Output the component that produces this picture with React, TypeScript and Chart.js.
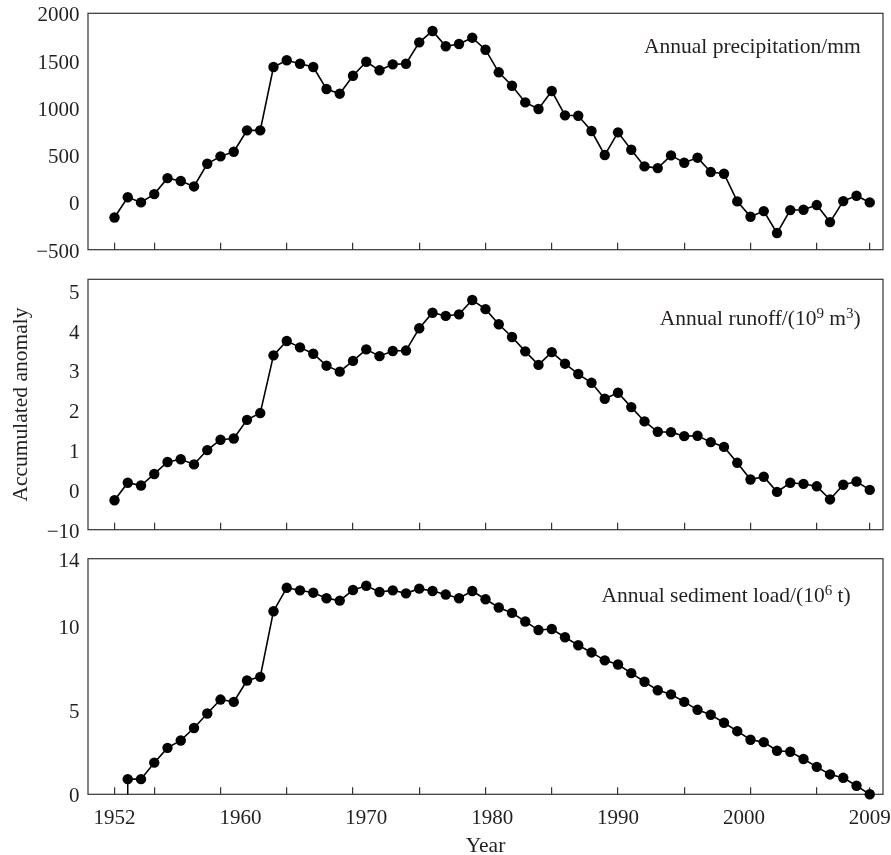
import React, { useEffect, useRef } from 'react';
import { Chart, registerables } from 'chart.js';

Chart.register(...registerables);

const FONT = '"Liberation Serif", "Times New Roman", serif';
const TEXT = '#231f20';
const FRAME = '#333333';

// ---------------- data ----------------
const years = [
  1952, 1953, 1954, 1955, 1956, 1957, 1958, 1959, 1960, 1961,
  1962, 1963, 1964, 1965, 1966, 1967, 1968, 1969, 1970, 1971,
  1972, 1973, 1974, 1975, 1976, 1977, 1978, 1979, 1980, 1981,
  1982, 1983, 1984, 1985, 1986, 1987, 1988, 1989, 1990, 1991,
  1992, 1993, 1994, 1995, 1996, 1997, 1998, 1999, 2000, 2001,
  2002, 2003, 2004, 2005, 2006, 2007, 2008, 2009,
];

const precipitation = [
  -160, 55, 0, 88, 257, 226, 169, 409, 487, 536,
  762, 762, 1432, 1503, 1467, 1432, 1199, 1150, 1340, 1488,
  1397, 1460, 1467, 1693, 1813, 1651, 1675, 1742, 1615, 1376,
  1234, 1058, 988, 1178, 921, 917, 755, 501, 741, 557,
  381, 363, 497, 420, 473, 321, 303, 11, -152, -92,
  -324, -81, -78, -28, -208, 14, 71, 0,
];

const runoff = [
  -0.26, 0.18, 0.11, 0.40, 0.70, 0.77, 0.64, 1.00, 1.26, 1.29,
  1.76, 1.93, 3.38, 3.74, 3.58, 3.42, 3.12, 2.97, 3.24, 3.53,
  3.36, 3.49, 3.50, 4.06, 4.45, 4.37, 4.41, 4.77, 4.54, 4.16,
  3.84, 3.48, 3.14, 3.46, 3.17, 2.91, 2.69, 2.29, 2.44, 2.08,
  1.72, 1.46, 1.45, 1.35, 1.36, 1.20, 1.08, 0.68, 0.26, 0.33,
  -0.05, 0.18, 0.15, 0.09, -0.24, 0.13, 0.21, 0,
];

const sediment = [
  null, 0.90, 0.90, 1.88, 2.76, 3.20, 3.94, 4.80, 5.63, 5.49,
  6.76, 6.98, 10.88, 12.27, 12.12, 11.98, 11.65, 11.51, 12.14, 12.39,
  12.02, 12.12, 11.94, 12.22, 12.08, 11.87, 11.65, 12.08, 11.59, 11.10,
  10.78, 10.27, 9.76, 9.82, 9.33, 8.86, 8.43, 7.96, 7.71, 7.20,
  6.69, 6.18, 5.94, 5.49, 5.02, 4.73, 4.25, 3.75, 3.24, 3.10,
  2.59, 2.53, 2.10, 1.63, 1.18, 0.98, 0.51, 0,
];

const xMin = 1950;
const xMax = 2010;
const xTickYears = [1952, 1955, 1960, 1965, 1970, 1975, 1980, 1985, 1990, 1995, 2000, 2005, 2009];
const xLabelText = ['1952', '1960', '1970', '1980', '1990', '2000', '2009'];

const precipTicks = [-500, 0, 500, 1000, 1500, 2000];
const precipTickLabels = ['\u2212500', '0', '500', '1000', '1500', '2000'];
const runoffTicks = [-1, 0, 1, 2, 3, 4, 5];
const runoffTickLabels = ['\u221210', '0', '1', '2', '3', '4', '5'];
const sedimentTicks = [0, 5, 10, 14];
const sedimentTickLabels = ['0', '5', '10', '14'];

type Seg = { t: string; sup?: boolean };

const precipNote: Seg[] = [{ t: 'Annual precipitation/mm' }];
const runoffNote: Seg[] = [{ t: 'Annual runoff/(10' }, { t: '9', sup: true }, { t: ' m' }, { t: '3', sup: true }, { t: ')' }];
const sedimentNote: Seg[] = [{ t: 'Annual sediment load/(10' }, { t: '6', sup: true }, { t: ' t)' }];

interface PanelSpec {
  id: string;
  top: number;
  height: number;
  padTop: number;
  padBottom: number;
  values: (number | null)[];
  yMin: number;
  yMax: number;
  yTicks: number[];
  yLabels: string[];
  note: Seg[];
  noteDx: number;
  noteBase: number;
  yTitle?: string;
  showYears?: boolean;
  connector?: boolean;
}

const panels: PanelSpec[] = [
  {
    id: 'p', top: 0, height: 264, padTop: 13.3, padBottom: 14.3,
    values: precipitation, yMin: -500, yMax: 2000, yTicks: precipTicks, yLabels: precipTickLabels,
    note: precipNote, noteDx: 22.3, noteBase: 40,
  },
  {
    id: 'r', top: 264, height: 280, padTop: 15.3, padBottom: 14.3,
    values: runoff, yMin: -1, yMax: 5.29, yTicks: runoffTicks, yLabels: runoffTickLabels,
    note: runoffNote, noteDx: 22.3, noteBase: 45.7, yTitle: 'Accumulated anomaly',
  },
  {
    id: 's', top: 544, height: 311, padTop: 14.7, padBottom: 0,
    values: sediment, yMin: 0, yMax: 14, yTicks: sedimentTicks, yLabels: sedimentTickLabels,
    note: sedimentNote, noteDx: 32.3, noteBase: 43, showYears: true, connector: true,
  },
];

function framePlugin(spec: PanelSpec) {
  return {
    id: 'frameNote_' + spec.id,
    beforeDatasetsDraw(chart: any) {
      const { ctx, chartArea: a } = chart;
      ctx.save();
      ctx.strokeStyle = FRAME;
      ctx.lineWidth = 1.2;
      ctx.strokeRect(a.left, a.top, a.right - a.left, a.bottom - a.top);
      ctx.restore();
    },
    afterDraw(chart: any) {
      const { ctx, chartArea: a } = chart;
      const baseFont = `21.5px ${FONT}`;
      const supFont = `15px ${FONT}`;
      ctx.save();
      let total = 0;
      for (const s of spec.note) {
        ctx.font = s.sup ? supFont : baseFont;
        total += ctx.measureText(s.t).width;
      }
      let x = a.right - spec.noteDx - total;
      const y = a.top + spec.noteBase;
      ctx.fillStyle = TEXT;
      ctx.textBaseline = 'alphabetic';
      ctx.textAlign = 'left';
      for (const s of spec.note) {
        ctx.font = s.sup ? supFont : baseFont;
        ctx.fillText(s.t, x, s.sup ? y - 7 : y);
        x += ctx.measureText(s.t).width;
      }
      ctx.restore();
    },
  };
}

function makeChart(canvas: HTMLCanvasElement, spec: PanelSpec) {
  const datasets: any[] = [];
  if (spec.connector) {
    const first = spec.values.findIndex((v) => v !== null);
    datasets.push({
      data: [
        { x: years[first], y: 0 },
        { x: years[first], y: spec.values[first] },
      ],
      borderColor: '#000',
      borderWidth: 1.5,
      pointRadius: 0,
      clip: false,
    });
  }
  datasets.push({
    data: years.map((yr, i) => ({ x: yr, y: spec.values[i] })),
    borderColor: '#000',
    borderWidth: 1.6,
    pointRadius: 5.2,
    pointHoverRadius: 5.2,
    pointBackgroundColor: '#000',
    pointBorderColor: '#000',
    pointBorderWidth: 0,
    tension: 0,
    spanGaps: false,
    clip: false,
  });

  const scales: any = {
    x: {
      type: 'linear',
      position: 'bottom',
      weight: 0,
      min: xMin,
      max: xMax,
      afterBuildTicks: (s: any) => {
        s.ticks = xTickYears.map((v) => ({ value: v }));
      },
      afterFit: (s: any) => {
        s.height = 0;
        s.paddingLeft = 0;
        s.paddingRight = 0;
      },
      grid: {
        display: true,
        drawOnChartArea: false,
        drawTicks: true,
        tickLength: -7,
        color: FRAME,
        lineWidth: 1.2,
      },
      border: { display: false },
      ticks: { display: false },
    },
    y: {
      type: 'linear',
      position: 'left',
      min: spec.yMin,
      max: spec.yMax,
      afterBuildTicks: (s: any) => {
        s.ticks = spec.yTicks.map((v) => ({ value: v }));
      },
      afterFit: (s: any) => {
        s.width = 88;
        s.paddingTop = 0;
        s.paddingBottom = 0;
      },
      grid: { display: false, drawTicks: false },
      border: { display: false },
      ticks: {
        padding: 8.5,
        labelOffset: 2.5,
        color: TEXT,
        font: { family: FONT, size: 21 },
        callback: (_v: any, i: number) => spec.yLabels[i],
      },
      title: spec.yTitle
        ? {
            display: true,
            text: spec.yTitle,
            color: TEXT,
            font: { family: FONT, size: 21.5 },
            padding: { top: 8.5, bottom: 0 },
          }
        : { display: false },
    },
  };

  if (spec.showYears) {
    const step = (years[years.length - 1] - years[0]) / (xLabelText.length - 1);
    scales.x2 = {
      type: 'linear',
      axis: 'x',
      position: 'bottom',
      weight: 1,
      min: (xMin - years[0]) / step,
      max: (xMax - years[0]) / step,
      afterBuildTicks: (s: any) => {
        s.ticks = xLabelText.map((_t, i) => ({ value: i }));
      },
      afterFit: (s: any) => {
        s.height = 855 - 794.3;
        s.paddingLeft = 0;
        s.paddingRight = 0;
      },
      grid: { display: false, drawTicks: false },
      border: { display: false },
      ticks: {
        autoSkip: false,
        maxRotation: 0,
        minRotation: 0,
        padding: 12,
        color: TEXT,
        font: { family: FONT, size: 21 },
        callback: (_v: any, i: number) => xLabelText[i],
      },
      title: {
        display: true,
        text: 'Year',
        color: TEXT,
        font: { family: FONT, size: 21.5, lineHeight: 0.8 },
        padding: 0,
      },
    };
  }

  return new Chart(canvas, {
    type: 'line',
    data: { datasets },
    options: {
      responsive: false,
      animation: false,
      events: [],
      devicePixelRatio: 1,
      layout: { padding: { top: spec.padTop, bottom: spec.padBottom, left: 0, right: 8 } },
      plugins: { legend: { display: false }, tooltip: { enabled: false } },
      scales,
    },
    plugins: [framePlugin(spec)],
  } as any);
}

function Panel({ spec }: { spec: PanelSpec }) {
  const ref = useRef<HTMLCanvasElement>(null);
  useEffect(() => {
    const chart = makeChart(ref.current as HTMLCanvasElement, spec);
    return () => chart.destroy();
  }, [spec]);
  return (
    <canvas
      ref={ref}
      width={891}
      height={spec.height}
      style={{ position: 'absolute', left: 0, top: spec.top, width: 891, height: spec.height, display: 'block' }}
    />
  );
}

export default function App() {
  return (
    <div style={{ position: 'absolute', left: 0, top: 0, width: 891, height: 855, background: '#fff', overflow: 'hidden' }}>
      {panels.map((p) => (
        <Panel key={p.id} spec={p} />
      ))}
    </div>
  );
}
